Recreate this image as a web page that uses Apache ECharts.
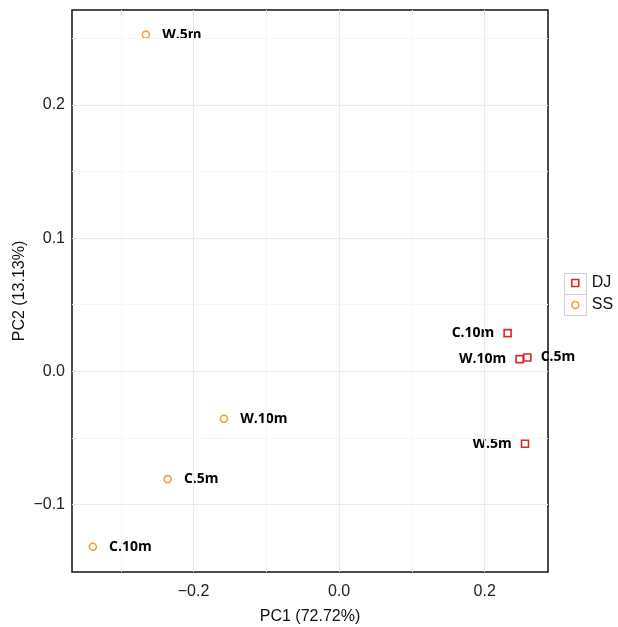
<!DOCTYPE html>
<html>
<head>
<meta charset="utf-8">
<script src="https://cdn.jsdelivr.net/npm/echarts@6/dist/echarts.min.js"></script>
<style>html,body{margin:0;padding:0;background:#fff}#c{width:618px;height:627px}</style>
</head>
<body>
<div id="c"></div>
<script>
// ---- data ----
const djLabels = ['C.10m', 'W.10m', 'C.5m', 'W.5m'];
const djPC1 = [0.2315, 0.2480, 0.2586, 0.2554];
const djPC2 = [0.0287, 0.0092, 0.0104, -0.0544];
const djLabelSide = ['left', 'left', 'right', 'left'];

const ssLabels = ['W.5m', 'W.10m', 'C.5m', 'C.10m'];
const ssPC1 = [-0.2655, -0.1582, -0.2356, -0.3384];
const ssPC2 = [0.2527, -0.0356, -0.0809, -0.1317];

const xTicks = [-0.2, 0.0, 0.2];
const yTicks = [-0.1, 0.0, 0.1, 0.2];
const xMinor = [-0.3, -0.1, 0.1];
const yMinor = [-0.05, 0.05, 0.15, 0.25];
const xRange = [-0.367, 0.287];
const yRange = [-0.1506, 0.2712];

const RED = '#D7282E', ORANGE = '#F0A136';
const fmt = v => (v < 0 ? '\u2212' : '') + Math.abs(v).toFixed(1);

const labelFont = { fontFamily: 'Open Sans', fontWeight: 'bold', fontSize: 14, color: '#000' };

const djData = djPC1.map((x, i) => ({
  value: [x, djPC2[i]], name: djLabels[i],
  label: { show: true, position: djLabelSide[i], distance: 9, formatter: djLabels[i], ...labelFont }
}));
const ssData = ssPC1.map((x, i) => ({
  value: [x, ssPC2[i]], name: ssLabels[i],
  label: { show: true, position: 'right', distance: 12, formatter: ssLabels[i], ...labelFont }
}));

const gridLine = (vals, key, color) => vals.map(v => ({ [key]: v, lineStyle: { color, width: 1, type: 'solid' } }));

const chart = echarts.init(document.getElementById('c'), null, { renderer: 'canvas' });
chart.setOption({
  animation: false,
  backgroundColor: '#fff',
  grid: { left: 72, right: 70, top: 10, bottom: 55, outerBoundsMode: 'none', containLabel: false, show: true, borderColor: '#111', borderWidth: 1.5, backgroundColor: 'transparent' },
  xAxis: {
    type: 'value', min: xRange[0], max: xRange[1],
    name: 'PC1 (72.72%)', nameLocation: 'middle', nameGap: 37,
    nameTextStyle: { fontFamily: 'Liberation Sans', fontSize: 16, color: '#111' },
    axisLine: { show: false },
    splitLine: { show: false },
    axisTick: { show: true, length: 4, lineStyle: { color: '#333' }, customValues: xTicks },
    axisLabel: { customValues: xTicks, formatter: fmt, fontFamily: 'Liberation Sans', fontSize: 16, color: '#222', margin: 12 }
  },
  yAxis: {
    type: 'value', min: yRange[0], max: yRange[1],
    name: 'PC2 (13.13%)', nameLocation: 'middle', nameGap: 44, nameRotate: 90, nameMoveOverlap: false,
    nameTextStyle: { fontFamily: 'Liberation Sans', fontSize: 16, color: '#111' },
    axisLine: { show: false },
    splitLine: { show: false },
    axisTick: { show: true, length: 4, lineStyle: { color: '#333' }, customValues: yTicks },
    axisLabel: { customValues: yTicks, formatter: fmt, fontFamily: 'Liberation Sans', fontSize: 16, color: '#222', margin: 7 }
  },
  legend: {
    orient: 'vertical', left: 566, top: 270, itemGap: 6,
    itemWidth: 7, itemHeight: 7,
    textStyle: { fontFamily: 'Liberation Sans', fontSize: 16, color: '#111', padding: [0, 0, 0, 8], lineHeight: 15 },
    data: [
      { name: 'DJ', icon: 'rect', itemStyle: { color: 'rgba(0,0,0,0)', borderColor: RED, borderWidth: 1.6 } },
      { name: 'SS', icon: 'circle', itemStyle: { color: 'rgba(0,0,0,0)', borderColor: ORANGE, borderWidth: 1.6 } }
    ]
  },
  graphic: [
    { type: 'rect', left: 562, top: 271, shape: { width: 22, height: 21 }, style: { fill: 'none', stroke: '#D0D0D0', lineWidth: 1 }, z: 0 },
    { type: 'rect', left: 562, top: 292, shape: { width: 22, height: 21 }, style: { fill: 'none', stroke: '#D0D0D0', lineWidth: 1 }, z: 0 }
  ],
  series: [
    {
      name: 'grid', type: 'scatter', data: [], z: 0, silent: true,
      markLine: {
        silent: true, symbol: 'none', label: { show: false }, animation: false,
        data: [].concat(
          gridLine(xMinor, 'xAxis', '#F6F6F6'), gridLine(yMinor, 'yAxis', '#F6F6F6'),
          gridLine(xTicks, 'xAxis', '#EBEBEB'), gridLine(yTicks, 'yAxis', '#EBEBEB')
        )
      }
    },
    {
      name: 'DJ', type: 'scatter', symbol: 'rect', symbolSize: 7, z: 3,
      itemStyle: { color: 'rgba(0,0,0,0)', borderColor: RED, borderWidth: 1.6, opacity: 1 },
      data: djData
    },
    {
      name: 'SS', type: 'scatter', symbol: 'circle', symbolSize: 7, z: 3,
      itemStyle: { color: 'rgba(0,0,0,0)', borderColor: ORANGE, borderWidth: 1.6, opacity: 1 },
      data: ssData
    }
  ]
});
</script>
</body>
</html>
